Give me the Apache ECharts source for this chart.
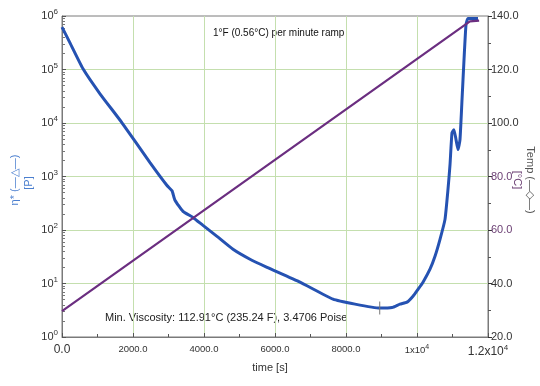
<!DOCTYPE html>
<html><head><meta charset="utf-8">
<script src="https://cdn.jsdelivr.net/npm/echarts@6/dist/echarts.min.js"></script>
<style>html,body{margin:0;padding:0;background:#fff}#c{width:540px;height:386px}</style>
</head><body><div id="c"></div>
<script>
// ---- data ----
const timeVisc = [0,225,592,1070,1690,2479,2958,3099,3183,3408,3690,3972,4366,4817,5296,5775,6704,7634,8254,8950,9296,9521,9718,9887,10028,10169,10366,10507,10648,10789,10873,10930,10986,11040,11099,11155,11211,11268,11324,11380,11437,11718];
const viscosity = [620000,314000,103000,35200,10100,1820,680,540,360,223,172,122,76,43.6,28.4,20.1,10.6,5.1,4.12,3.47,3.55,4.12,4.49,5.8,7.8,10.6,18.5,32.3,67,158,573,1670,6600,7500,4900,3180,4900,27200,151000,680000,900000,900000];
const timeTemp = [0,11490,11750];
const temperature = [29.7,138.0,138.3];
const xTickValues = [0,2000,4000,6000,8000,10000,12000];
const xTickLabels = ['{b|0.0}','{m|2000.0}','{m|4000.0}','{m|6000.0}','{m|8000.0}','{m|1x10}{ms|4}','{b|1.2x10}{bs|4}'];
const minPoint = [8950,3.47];
const rampNote = '1°F (0.56°C) per minute ramp';
const minNote = 'Min. Viscosity: 112.91°C (235.24 F), 3.4706 Poise';

const FONT = '"Liberation Sans", Arial, sans-serif';
const chart = echarts.init(document.getElementById('c'), null, {renderer:'canvas'});
const grid = {left:62, right:52, top:16, bottom:49};
const GREEN = '#c4dfae';

chart.setOption({
  animation:false,
  backgroundColor:'#fff',
  textStyle:{fontFamily:FONT},
  grid:{left:grid.left,right:grid.right,top:grid.top,bottom:grid.bottom,show:true,borderColor:'#7a7a7a',borderWidth:1,backgroundColor:'transparent'},
  xAxis:{
    type:'value',min:0,max:12000,interval:2000,
    axisLine:{show:true,lineStyle:{color:'#7a7a7a'}},
    axisTick:{show:true,inside:true,length:4,lineStyle:{color:'#555'}},
    minorTick:{show:true,splitNumber:2,length:3,lineStyle:{color:'#555'}},
    splitLine:{show:true,showMinLine:false,showMaxLine:false,lineStyle:{color:GREEN,width:1}},
    axisLabel:{margin:7,color:'#333',
      formatter:v=>{const i=xTickValues.indexOf(v);return i>=0?xTickLabels[i]:'';},
      rich:{b:{fontSize:12,color:'#333',fontFamily:FONT},bs:{fontSize:8,color:'#333',padding:[0,0,8,0],fontFamily:FONT},
            m:{fontSize:9.5,color:'#333',fontFamily:FONT},ms:{fontSize:7,color:'#333',padding:[0,0,6,0],fontFamily:FONT}}}
  },
  yAxis:[{
    type:'log',logBase:10,min:1,max:1000000,
    axisLine:{show:true,lineStyle:{color:'#7a7a7a'}},
    axisTick:{show:true,inside:true,length:4,lineStyle:{color:'#555'}},
    minorTick:{show:true,splitNumber:9,length:3,lineStyle:{color:'#777'}},
    splitLine:{show:true,showMinLine:false,showMaxLine:false,lineStyle:{color:GREEN,width:1}},
    axisLabel:{margin:4,color:'#333',
      formatter:v=>'{n|10}{s|'+Math.round(Math.log10(v))+'}',
      rich:{n:{fontSize:11,color:'#333',fontFamily:FONT},s:{fontSize:8,color:'#333',padding:[0,0,8,0],fontFamily:FONT}}}
  },{
    type:'value',min:20,max:140,interval:20,position:'right',
    axisLine:{show:true,lineStyle:{color:'#7a7a7a'}},
    axisTick:{show:true,inside:false,length:4,lineStyle:{color:'#333'}},
    minorTick:{show:true,splitNumber:2,length:3,lineStyle:{color:'#555'}},
    splitLine:{show:false},
    axisLabel:{margin:3,fontSize:11,fontFamily:FONT,
      color:v=>(v==60||v==80)?'#6a3d72':'#333',
      formatter:v=>v.toFixed(1)}
  }],
  graphic:[
    {type:'text',x:15,y:180,rotation:Math.PI/2,style:{text:'η* (—△—)',fill:'#4b7fcf',font:'11px '+FONT,textAlign:'center',textVerticalAlign:'middle'}},
    {type:'text',x:29,y:183,rotation:Math.PI/2,style:{text:'[P]',fill:'#4b7fcf',font:'11px '+FONT,textAlign:'center',textVerticalAlign:'middle'}},
    {type:'text',x:530,y:180,rotation:-Math.PI/2,style:{text:'Temp (—◇—)',fill:'#555',font:'11px '+FONT,textAlign:'center',textVerticalAlign:'middle'}},
    {type:'text',x:517,y:180,rotation:-Math.PI/2,style:{text:'[°C]',fill:'#6a3d72',font:'11px '+FONT,textAlign:'center',textVerticalAlign:'middle'}},
    {type:'text',x:270,y:368,style:{text:'time [s]',fill:'#333',font:'11px '+FONT,textAlign:'center',textVerticalAlign:'middle'}},
    {type:'text',x:213,y:33,style:{text:rampNote,fill:'#111',font:'10px '+FONT,textAlign:'left',textVerticalAlign:'middle'}},
    {type:'text',x:105,y:318,style:{text:minNote,fill:'#222',font:'11px '+FONT,textAlign:'left',textVerticalAlign:'middle'}}
  ],
  series:[{
    type:'line',yAxisIndex:0,
    data:timeVisc.map((t,i)=>[t,viscosity[i]]),
    showSymbol:false,smooth:0.15,
    lineStyle:{color:'#2552b2',width:3},
    itemStyle:{color:'#2552b2'},
    markPoint:{silent:true,data:[{coord:minPoint,symbol:'rect',symbolSize:[1,13],itemStyle:{color:'#777'},label:{show:false}}]},
    z:2
  },{
    type:'line',yAxisIndex:1,
    data:timeTemp.map((t,i)=>[t,temperature[i]]),
    showSymbol:false,
    lineStyle:{color:'#6b2e80',width:2.2},
    itemStyle:{color:'#6b2e80'},
    z:3
  }]
});
</script></body></html>
